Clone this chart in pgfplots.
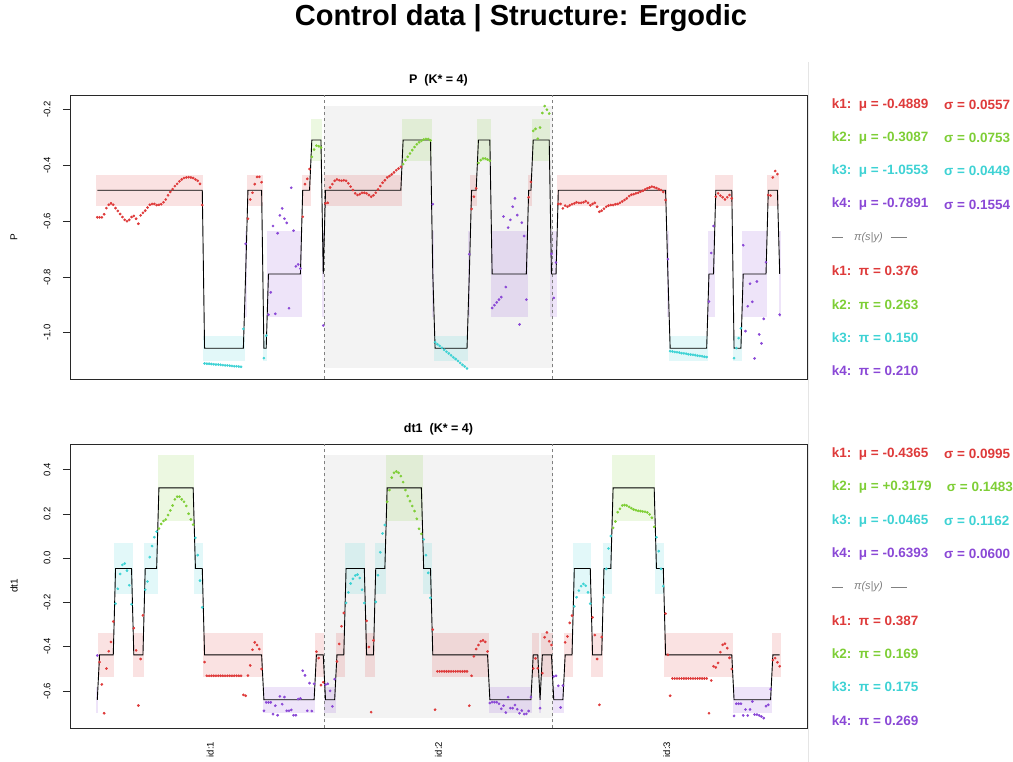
\documentclass[border=0pt]{standalone}
\usepackage{pgfplots}
\pgfplotsset{compat=1.18}
\usepackage{pgfplotstable}
\usepackage{fontspec}
\setmainfont{Liberation Sans}

\definecolor{kA}{RGB}{222,58,58}
\definecolor{kB}{RGB}{126,206,54}
\definecolor{kC}{RGB}{62,210,212}
\definecolor{kD}{RGB}{138,72,214}
\definecolor{regiongray}{RGB}{243,243,243}
\definecolor{axisgray}{RGB}{40,40,40}

% P panel: t value state
\pgfplotstableread[row sep=\\]{
t v s\\
1 -0.586 1\\ 2 -0.586 1\\ 3 -0.586 1\\ 4 -0.575 1\\ 5 -0.553 1\\ 6 -0.541 1\\ 7 -0.536 1\\ 8 -0.541 1\\ 9 -0.553 1\\ 10 -0.563 1\\
11 -0.574 1\\ 12 -0.585 1\\ 13 -0.595 1\\ 14 -0.600 1\\ 15 -0.595 1\\ 16 -0.585 1\\ 17 -0.581 1\\ 18 -0.591 1\\ 19 -0.609 1\\ 20 -0.579 1\\
21 -0.570 1\\ 22 -0.562 1\\ 23 -0.551 1\\ 24 -0.541 1\\ 25 -0.538 1\\ 26 -0.538 1\\ 27 -0.542 1\\ 28 -0.541 1\\ 29 -0.539 1\\ 30 -0.532 1\\
31 -0.522 1\\ 32 -0.507 1\\ 33 -0.495 1\\ 34 -0.485 1\\ 35 -0.474 1\\ 36 -0.466 1\\ 37 -0.457 1\\ 38 -0.450 1\\ 39 -0.445 1\\ 40 -0.443 1\\
41 -0.442 1\\ 42 -0.443 1\\ 43 -0.445 1\\ 44 -0.450 1\\ 45 -0.455 1\\ 46 -0.466 1\\ 47 -0.542 1\\
48 -1.110 3\\ 49 -1.111 3\\ 50 -1.111 3\\ 51 -1.112 3\\ 52 -1.113 3\\ 53 -1.114 3\\ 54 -1.114 3\\ 55 -1.115 3\\ 56 -1.116 3\\ 57 -1.117 3\\
58 -1.117 3\\ 59 -1.118 3\\ 60 -1.119 3\\ 61 -1.120 3\\ 62 -1.120 3\\ 63 -1.121 3\\ 64 -1.122 3\\ 65 -0.986 3\\
66 -0.681 4\\
67 -0.591 1\\ 68 -0.522 1\\ 69 -0.498 1\\ 70 -0.467 1\\ 71 -0.441 1\\ 72 -0.441 1\\ 73 -0.460 1\\
74 -1.091 3\\ 75 -1.010 3\\
76 -0.935 4\\ 77 -0.855 4\\ 78 -0.617 4\\ 79 -0.932 4\\ 80 -0.643 4\\ 81 -0.579 4\\ 82 -0.554 4\\ 83 -0.591 4\\ 84 -0.606 4\\ 85 -0.912 4\\
86 -0.480 4\\ 87 -0.634 4\\ 88 -0.762 4\\ 89 -0.755 4\\ 90 -0.770 4\\
91 -0.584 1\\ 92 -0.467 1\\ 93 -0.448 1\\ 94 -0.413 1\\
95 -0.369 2\\ 96 -0.343 2\\ 97 -0.329 2\\ 98 -0.331 2\\ 99 -0.336 2\\
100 -0.974 4\\
101 -0.536 1\\ 102 -0.534 1\\ 103 -0.479 1\\ 104 -0.467 1\\ 105 -0.455 1\\ 106 -0.450 1\\ 107 -0.453 1\\ 108 -0.455 1\\ 109 -0.453 1\\ 110 -0.455 1\\
111 -0.464 1\\ 112 -0.476 1\\ 113 -0.488 1\\ 114 -0.500 1\\ 115 -0.506 1\\ 116 -0.503 1\\ 117 -0.498 1\\ 118 -0.498 1\\ 119 -0.500 1\\ 120 -0.506 1\\
121 -0.512 1\\ 122 -0.507 1\\ 123 -0.498 1\\ 124 -0.486 1\\ 125 -0.474 1\\ 126 -0.462 1\\ 127 -0.453 1\\ 128 -0.443 1\\ 129 -0.438 1\\ 130 -0.432 1\\
131 -0.425 1\\ 132 -0.417 1\\ 133 -0.411 1\\ 134 -0.405 1\\
135 -0.395 2\\ 136 -0.381 2\\ 137 -0.369 2\\ 138 -0.357 2\\ 139 -0.345 2\\ 140 -0.334 2\\ 141 -0.324 2\\ 142 -0.317 2\\ 143 -0.312 2\\ 144 -0.307 2\\
145 -0.305 2\\ 146 -0.305 2\\ 147 -0.310 2\\
148 -0.539 4\\
149 -1.034 3\\ 150 -1.041 3\\ 151 -1.047 3\\ 152 -1.054 3\\ 153 -1.061 3\\ 154 -1.068 3\\ 155 -1.074 3\\ 156 -1.081 3\\ 157 -1.088 3\\ 158 -1.094 3\\
159 -1.101 3\\ 160 -1.108 3\\ 161 -1.115 3\\ 162 -1.121 3\\ 163 -1.128 3\\
164 -0.718 4\\
165 -0.556 1\\ 166 -0.512 1\\ 167 -0.482 1\\
168 -0.391 2\\ 169 -0.381 2\\ 170 -0.375 2\\ 171 -0.375 2\\ 172 -0.379 2\\ 173 -0.383 2\\
174 -0.911 4\\ 175 -0.901 4\\ 176 -0.891 4\\ 177 -0.881 4\\ 178 -0.872 4\\ 179 -0.583 4\\ 180 -0.836 4\\ 181 -0.623 4\\ 182 -0.595 4\\ 183 -0.548 4\\
184 -0.518 4\\ 185 -0.578 4\\ 186 -0.970 4\\ 187 -0.605 4\\ 188 -0.653 4\\ 189 -0.881 4\\
190 -0.514 1\\ 191 -0.459 1\\
192 -0.276 2\\ 193 -0.269 2\\ 194 -0.304 2\\ 195 -0.264 2\\ 196 -0.212 2\\ 197 -0.187 2\\ 198 -0.200 2\\ 199 -0.214 2\\
200 -0.717 4\\ 201 -0.875 4\\ 202 -0.748 4\\
203 -0.538 1\\ 204 -0.538 1\\ 205 -0.554 1\\ 206 -0.544 1\\ 207 -0.548 1\\ 208 -0.543 1\\ 209 -0.539 1\\ 210 -0.536 1\\
211 -0.532 1\\ 212 -0.534 1\\ 213 -0.534 1\\ 214 -0.532 1\\ 215 -0.528 1\\ 216 -0.534 1\\ 217 -0.543 1\\ 218 -0.538 1\\ 219 -0.534 1\\ 220 -0.548 1\\
221 -0.566 1\\ 222 -0.562 1\\ 223 -0.555 1\\ 224 -0.548 1\\ 225 -0.544 1\\ 226 -0.542 1\\ 227 -0.542 1\\ 228 -0.539 1\\ 229 -0.538 1\\ 230 -0.534 1\\
231 -0.529 1\\ 232 -0.524 1\\ 233 -0.518 1\\ 234 -0.510 1\\ 235 -0.505 1\\ 236 -0.503 1\\ 237 -0.500 1\\ 238 -0.498 1\\ 239 -0.494 1\\ 240 -0.491 1\\
241 -0.486 1\\ 242 -0.482 1\\ 243 -0.479 1\\ 244 -0.476 1\\ 245 -0.478 1\\ 246 -0.481 1\\ 247 -0.485 1\\ 248 -0.488 1\\ 249 -0.495 1\\ 250 -0.524 1\\
251 -0.736 4\\
252 -1.066 3\\ 253 -1.067 3\\ 254 -1.069 3\\ 255 -1.070 3\\ 256 -1.071 3\\ 257 -1.073 3\\ 258 -1.074 3\\ 259 -1.075 3\\ 260 -1.077 3\\
261 -1.078 3\\ 262 -1.079 3\\ 263 -1.080 3\\ 264 -1.082 3\\ 265 -1.083 3\\ 266 -1.084 3\\ 267 -1.086 3\\ 268 -1.087 3\\
269 -0.888 4\\ 270 -0.714 4\\ 271 -0.617 4\\
272 -0.512 1\\ 273 -0.500 1\\ 274 -0.508 1\\ 275 -0.514 1\\ 276 -0.522 1\\ 277 -0.514 1\\ 278 -0.506 1\\ 279 -0.518 1\\
280 -1.091 3\\ 281 -1.055 3\\ 282 -1.019 3\\ 283 -0.984 3\\
284 -0.686 4\\ 285 -0.994 4\\ 286 -0.905 4\\ 287 -0.824 4\\ 288 -0.889 4\\ 289 -1.092 4\\ 290 -0.816 4\\ 291 -1.006 4\\ 292 -1.038 4\\ 293 -0.950 4\\ 294 -0.747 4\\
295 -0.506 1\\ 296 -0.508 1\\ 297 -0.443 1\\ 298 -0.420 1\\ 299 -0.431 1\\
300 -0.935 4\\
}\pdata

% dt1 panel
\pgfplotstableread[row sep=\\]{
t v s\\
1 -0.439 4\\
2 -0.469 1\\ 3 -0.570 1\\ 4 -0.700 1\\ 5 -0.498 1\\ 6 -0.420 1\\ 7 -0.378 1\\ 8 -0.286 1\\
9 -0.205 3\\ 10 -0.138 3\\ 11 -0.071 3\\ 12 -0.030 3\\ 13 -0.024 3\\ 14 -0.056 3\\ 15 -0.122 3\\ 16 -0.208 3\\
17 -0.316 1\\ 18 -0.416 1\\ 19 -0.665 1\\ 20 -0.455 1\\ 21 -0.258 1\\
22 -0.142 3\\ 23 -0.105 3\\ 24 0.005 3\\ 25 0.055 3\\ 26 0.095 3\\ 27 0.120 3\\
28 0.134 2\\ 29 0.155 2\\ 30 0.168 2\\ 31 0.175 2\\ 32 0.195 2\\ 33 0.216 2\\ 34 0.238 2\\ 35 0.266 2\\ 36 0.278 2\\ 37 0.278 2\\
38 0.266 2\\ 39 0.255 2\\ 40 0.236 2\\ 41 0.201 2\\ 42 0.175 2\\ 43 0.152 2\\
44 0.092 3\\ 45 0.014 3\\ 46 -0.101 3\\ 47 -0.222 3\\
48 -0.469 1\\ 49 -0.531 1\\ 50 -0.531 1\\ 51 -0.531 1\\ 52 -0.531 1\\ 53 -0.531 1\\ 54 -0.531 1\\ 55 -0.531 1\\ 56 -0.531 1\\ 57 -0.531 1\\
58 -0.531 1\\ 59 -0.531 1\\ 60 -0.531 1\\ 61 -0.531 1\\ 62 -0.531 1\\ 63 -0.531 1\\ 64 -0.531 1\\ 65 -0.617 1\\ 66 -0.621 1\\ 67 -0.530 1\\
68 -0.484 1\\ 69 -0.413 1\\ 70 -0.380 1\\ 71 -0.392 1\\ 72 -0.410 1\\ 73 -0.500 1\\
74 -0.689 4\\ 75 -0.651 4\\ 76 -0.651 4\\ 77 -0.651 4\\ 78 -0.704 4\\ 79 -0.666 4\\ 80 -0.709 4\\ 81 -0.624 4\\ 82 -0.659 4\\ 83 -0.627 4\\
84 -0.689 4\\ 85 -0.689 4\\ 86 -0.685 4\\ 87 -0.709 4\\ 88 -0.709 4\\ 89 -0.636 4\\ 90 -0.633 4\\ 91 -0.508 4\\ 92 -0.529 4\\ 93 -0.689 4\\
94 -0.564 4\\ 95 -0.690 4\\ 96 -0.567 4\\
97 -0.422 1\\ 98 -0.451 1\\ 99 -0.573 1\\ 100 -0.560 1\\
101 -0.571 4\\ 102 -0.567 4\\ 103 -0.599 4\\ 104 -0.669 4\\ 105 -0.546 4\\
106 -0.466 1\\ 107 -0.387 1\\ 108 -0.307 1\\ 109 -0.247 1\\
110 -0.202 3\\ 111 -0.154 3\\ 112 -0.114 3\\ 113 -0.093 3\\ 114 -0.078 3\\ 115 -0.074 3\\ 116 -0.089 3\\ 117 -0.142 3\\ 118 -0.202 3\\
119 -0.283 1\\ 120 -0.401 1\\ 121 -0.695 1\\ 122 -0.371 1\\
123 -0.197 3\\ 124 -0.077 3\\ 125 0.027 3\\ 126 0.112 3\\ 127 0.150 3\\
128 0.255 2\\ 129 0.308 2\\ 130 0.364 2\\ 131 0.386 2\\ 132 0.392 2\\ 133 0.386 2\\ 134 0.371 2\\ 135 0.344 2\\ 136 0.308 2\\ 137 0.281 2\\
138 0.258 2\\ 139 0.236 2\\ 140 0.213 2\\ 141 0.178 2\\ 142 0.133 2\\ 143 0.110 2\\
144 0.085 3\\ 145 0.014 3\\ 146 -0.066 3\\ 147 -0.179 3\\
148 -0.322 1\\ 149 -0.684 1\\ 150 -0.511 1\\ 151 -0.511 1\\ 152 -0.511 1\\ 153 -0.511 1\\ 154 -0.511 1\\ 155 -0.511 1\\ 156 -0.511 1\\ 157 -0.511 1\\
158 -0.511 1\\ 159 -0.511 1\\ 160 -0.511 1\\ 161 -0.511 1\\ 162 -0.511 1\\ 163 -0.511 1\\ 164 -0.666 1\\ 165 -0.531 1\\ 166 -0.443 1\\ 167 -0.410 1\\
168 -0.392 1\\ 169 -0.375 1\\ 170 -0.371 1\\ 171 -0.378 1\\ 172 -0.421 1\\
173 -0.654 4\\ 174 -0.650 4\\ 175 -0.650 4\\ 176 -0.650 4\\ 177 -0.657 4\\ 178 -0.680 4\\ 179 -0.666 4\\ 180 -0.697 4\\ 181 -0.627 4\\ 182 -0.677 4\\
183 -0.677 4\\ 184 -0.663 4\\ 185 -0.682 4\\ 186 -0.700 4\\ 187 -0.688 4\\ 188 -0.704 4\\ 189 -0.703 4\\ 190 -0.690 4\\ 191 -0.627 4\\
192 -0.498 1\\ 193 -0.452 1\\ 194 -0.497 1\\
195 -0.677 4\\
196 -0.519 1\\ 197 -0.357 1\\ 198 -0.335 1\\ 199 -0.375 1\\ 200 -0.392 1\\
201 -0.534 4\\ 202 -0.531 4\\ 203 -0.576 4\\ 204 -0.674 4\\ 205 -0.575 4\\
206 -0.380 1\\ 207 -0.353 1\\ 208 -0.292 1\\ 209 -0.259 1\\
210 -0.217 3\\ 211 -0.176 3\\ 212 -0.146 3\\ 213 -0.126 3\\ 214 -0.116 3\\ 215 -0.124 3\\ 216 -0.154 3\\ 217 -0.205 3\\
218 -0.267 1\\ 219 -0.347 1\\ 220 -0.455 1\\ 221 -0.662 1\\ 222 -0.356 1\\
223 -0.176 3\\ 224 -0.048 3\\ 225 0.044 3\\ 226 0.100 3\\
227 0.137 2\\ 228 0.166 2\\ 229 0.208 2\\ 230 0.223 2\\ 231 0.238 2\\ 232 0.240 2\\ 233 0.238 2\\ 234 0.232 2\\ 235 0.226 2\\ 236 0.220 2\\
237 0.217 2\\ 238 0.214 2\\ 239 0.213 2\\ 240 0.211 2\\ 241 0.210 2\\ 242 0.207 2\\ 243 0.198 2\\ 244 0.183 2\\ 245 0.142 2\\
246 0.095 3\\ 247 0.032 3\\ 248 -0.048 3\\ 249 -0.126 3\\
250 -0.250 1\\ 251 -0.436 1\\ 252 -0.621 1\\ 253 -0.543 1\\ 254 -0.543 1\\ 255 -0.543 1\\ 256 -0.543 1\\ 257 -0.543 1\\ 258 -0.543 1\\ 259 -0.543 1\\
260 -0.543 1\\ 261 -0.543 1\\ 262 -0.543 1\\ 263 -0.543 1\\ 264 -0.543 1\\ 265 -0.543 1\\ 266 -0.543 1\\ 267 -0.543 1\\ 268 -0.543 1\\ 269 -0.700 1\\
270 -0.552 1\\ 271 -0.488 1\\ 272 -0.493 1\\ 273 -0.473 1\\ 274 -0.424 1\\ 275 -0.391 1\\ 276 -0.386 1\\ 277 -0.406 1\\ 278 -0.450 1\\ 279 -0.500 1\\
280 -0.712 4\\ 281 -0.657 4\\ 282 -0.657 4\\ 283 -0.657 4\\ 284 -0.710 4\\ 285 -0.683 4\\ 286 -0.710 4\\ 287 -0.683 4\\ 288 -0.647 4\\ 289 -0.706 4\\
290 -0.706 4\\ 291 -0.710 4\\ 292 -0.715 4\\ 293 -0.722 4\\ 294 -0.668 4\\ 295 -0.662 4\\ 296 -0.591 4\\
297 -0.460 1\\ 298 -0.451 1\\ 299 -0.470 1\\ 300 -0.488 1\\
}\ddata

\newcommand{\band}[5]{\addplot[draw=none, fill=#5, fill opacity=0.15, forget plot] coordinates {(#1,#3) (#2,#3) (#2,#4) (#1,#4)};}
\newcommand{\PA}[2]{\band{#1}{#2}{-0.5446}{-0.4332}{kA}}
\newcommand{\PB}[2]{\band{#1}{#2}{-0.3840}{-0.2334}{kB}}
\newcommand{\PC}[2]{\band{#1}{#2}{-1.1002}{-1.0104}{kC}}
\newcommand{\PD}[2]{\band{#1}{#2}{-0.9445}{-0.6337}{kD}}
\newcommand{\DA}[2]{\band{#1}{#2}{-0.5360}{-0.3370}{kA}}
\newcommand{\DB}[2]{\band{#1}{#2}{0.1696}{0.4662}{kB}}
\newcommand{\DC}[2]{\band{#1}{#2}{-0.1627}{0.0697}{kC}}
\newcommand{\DD}[2]{\band{#1}{#2}{-0.6993}{-0.5793}{kD}}

\pgfplotsset{
  panel/.style={
    scale only axis, width=737pt,
    xmin=-10.96, xmax=311.96,
    axis line style={axisgray, line width=0.9pt},
    tick align=outside, ytick pos=left, xtick pos=bottom,
    major tick length=7pt,
    ytick style={axisgray, line width=0.8pt},
    xtick style={draw=none},
    yticklabel style={rotate=90, anchor=south, font=\fontsize{9.5}{10}\selectfont},
    yticklabel shift=9pt,
    /pgf/number format/fixed, /pgf/number format/fixed zerofill,
    /pgf/number format/precision=1, /pgf/number format/assume math mode=true,
    clip=false,
  },
  pts/.style={scatter, only marks, scatter src=explicit symbolic, mark size=1.15pt,
    scatter/classes={1={mark=*,kA}, 2={mark=*,kB}, 3={mark=*,kC}, 4={mark=*,kD}}},
  stepline/.style={black, line width=0.9pt, forget plot},
}

\begin{document}
\begin{tikzpicture}[x=1pt,y=1pt]
\path[use as bounding box] (0,0) rectangle (1013,762);

% ---------- top panel ----------
\begin{axis}[panel, at={(70pt,383pt)}, anchor=south west, height=284pt,
  ymin=-1.1657, ymax=-0.1473, ytick={-1.0,-0.8,-0.6,-0.4,-0.2}, xtick=\empty]
\addplot[draw=none, fill=regiongray, forget plot] coordinates {(100.5,-1.128) (200.5,-1.128) (200.5,-0.185) (100.5,-0.185)};
\PA{0.5}{47.5} \PC{47.5}{65.5} \PD{65.5}{66.5} \PA{66.5}{73.5} \PC{73.5}{75.5} \PD{75.5}{90.5} \PA{90.5}{94.5} \PB{94.5}{99.5} \PD{99.5}{100.5}
\PA{100.5}{134.5} \PB{134.5}{147.5} \PD{147.5}{148.5} \PC{148.5}{163.5} \PD{163.5}{164.5} \PA{164.5}{167.5} \PB{167.5}{173.5} \PD{173.5}{189.5} \PA{189.5}{191.5} \PB{191.5}{199.5} \PD{199.5}{202.5}
\PA{202.5}{250.5} \PD{250.5}{251.5} \PC{251.5}{268.5} \PD{268.5}{271.5} \PA{271.5}{279.5} \PC{279.5}{283.5} \PD{283.5}{294.5} \PA{294.5}{299.5} \PD{299.5}{300.5}
\addplot[gray, dashed, line width=0.6pt, forget plot] coordinates {(100.5,-1.1657) (100.5,-0.1473)};
\addplot[gray, dashed, line width=0.6pt, forget plot] coordinates {(200.5,-1.1657) (200.5,-0.1473)};
\addplot[stepline] coordinates {
(1,-0.4889)(47,-0.4889)(48,-1.0553)(65,-1.0553)(66,-0.7891)(67,-0.4889)(73,-0.4889)(74,-1.0553)(75,-1.0553)
(76,-0.7891)(90,-0.7891)(91,-0.4889)(94,-0.4889)(95,-0.3087)(99,-0.3087)(100,-0.7891)
(101,-0.4889)(134,-0.4889)(135,-0.3087)(147,-0.3087)(148,-0.7891)(149,-1.0553)(163,-1.0553)(164,-0.7891)
(165,-0.4889)(167,-0.4889)(168,-0.3087)(173,-0.3087)(174,-0.7891)(189,-0.7891)(190,-0.4889)(191,-0.4889)
(192,-0.3087)(199,-0.3087)(200,-0.7891)(202,-0.7891)(203,-0.4889)(250,-0.4889)(251,-0.7891)
(252,-1.0553)(268,-1.0553)(269,-0.7891)(271,-0.7891)(272,-0.4889)(279,-0.4889)(280,-1.0553)(283,-1.0553)
(284,-0.7891)(294,-0.7891)(295,-0.4889)(299,-0.4889)(300,-0.7891)};
\addplot[pts] table[x=t, y=v, meta=s] {\pdata};
\end{axis}

% ---------- bottom panel ----------
\begin{axis}[panel, at={(70pt,33.7pt)}, anchor=south west, height=284.3pt,
  ymin=-0.768, ymax=0.516, ytick={-0.6,-0.4,-0.2,0,0.2,0.4},
  xtick={50.5,150.5,250.5}, xticklabels={id:1,id:2,id:3},
  xticklabel shift=3pt,
  xticklabel style={rotate=90, anchor=east, font=\fontsize{9.5}{10}\selectfont}]
\addplot[draw=none, fill=regiongray, forget plot] coordinates {(100.5,-0.722) (200.5,-0.722) (200.5,0.466) (100.5,0.466)};
\DD{0.5}{1.5} \DA{1.5}{8.5} \DC{8.5}{16.5} \DA{16.5}{21.5} \DC{21.5}{27.5} \DB{27.5}{43.5} \DC{43.5}{47.5} \DA{47.5}{73.5} \DD{73.5}{96.5} \DA{96.5}{100.5}
\DD{100.5}{105.5} \DA{105.5}{109.5} \DC{109.5}{118.5} \DA{118.5}{122.5} \DC{122.5}{127.5} \DB{127.5}{143.5} \DC{143.5}{147.5} \DA{147.5}{172.5} \DD{172.5}{191.5} \DA{191.5}{194.5} \DD{194.5}{195.5} \DA{195.5}{200.5}
\DD{200.5}{205.5} \DA{205.5}{209.5} \DC{209.5}{217.5} \DA{217.5}{222.5} \DC{222.5}{226.5} \DB{226.5}{245.5} \DC{245.5}{249.5} \DA{249.5}{279.5} \DD{279.5}{296.5} \DA{296.5}{300.5}
\addplot[gray, dashed, line width=0.6pt, forget plot] coordinates {(100.5,-0.768) (100.5,0.516)};
\addplot[gray, dashed, line width=0.6pt, forget plot] coordinates {(200.5,-0.768) (200.5,0.516)};
\addplot[stepline] coordinates {
(1,-0.6393)(2,-0.4365)(8,-0.4365)(9,-0.0465)(16,-0.0465)(17,-0.4365)(21,-0.4365)(22,-0.0465)(27,-0.0465)
(28,0.3179)(43,0.3179)(44,-0.0465)(47,-0.0465)(48,-0.4365)(73,-0.4365)(74,-0.6393)(96,-0.6393)(97,-0.4365)(100,-0.4365)
(101,-0.6393)(105,-0.6393)(106,-0.4365)(109,-0.4365)(110,-0.0465)(118,-0.0465)(119,-0.4365)(122,-0.4365)
(123,-0.0465)(127,-0.0465)(128,0.3179)(143,0.3179)(144,-0.0465)(147,-0.0465)(148,-0.4365)(172,-0.4365)
(173,-0.6393)(191,-0.6393)(192,-0.4365)(194,-0.4365)(195,-0.6393)(196,-0.4365)(200,-0.4365)
(201,-0.6393)(205,-0.6393)(206,-0.4365)(209,-0.4365)(210,-0.0465)(217,-0.0465)(218,-0.4365)(222,-0.4365)
(223,-0.0465)(226,-0.0465)(227,0.3179)(245,0.3179)(246,-0.0465)(249,-0.0465)(250,-0.4365)(279,-0.4365)
(280,-0.6393)(296,-0.6393)(297,-0.4365)(300,-0.4365)};
\addplot[pts] table[x=t, y=v, meta=s] {\ddata};
\end{axis}

% ---------- titles and labels ----------
\node[font=\bfseries\fontsize{29}{31}\selectfont] at (521,744) {Control data | Structure: Ergodic};
\node[font=\bfseries\fontsize{12.5}{14}\selectfont] at (438.5,682) {P\ \ (K* = 4)};
\node[font=\bfseries\fontsize{12.5}{14}\selectfont] at (438.5,333) {dt1\ \ (K* = 4)};
\node[rotate=90, font=\fontsize{10}{12}\selectfont] at (14,525) {P};
\node[rotate=90, font=\fontsize{10}{12}\selectfont] at (14,176) {dt1};

\draw[black!10, line width=1.6pt] (808.5,0) -- (808.5,700);

% ---------- right-hand text ----------
\begin{scope}[every node/.style={anchor=west, inner sep=0pt, font=\bfseries\fontsize{13.5}{15}\selectfont}]
\node[text=kA] at (831.7,657.5) {k1:\ \ μ = -0.4889}; \node[text=kA] at (944,657.5) {σ = 0.0557};
\node[text=kB] at (831.7,624.2) {k2:\ \ μ = -0.3087}; \node[text=kB] at (944,624.2) {σ = 0.0753};
\node[text=kC] at (831.7,590.9) {k3:\ \ μ = -1.0553}; \node[text=kC] at (944,590.9) {σ = 0.0449};
\node[text=kD] at (831.7,557.6) {k4:\ \ μ = -0.7891}; \node[text=kD] at (944,557.6) {σ = 0.1554};
\node[text=kA] at (831.7,491.0) {k1:\ \ π = 0.376};
\node[text=kB] at (831.7,457.7) {k2:\ \ π = 0.263};
\node[text=kC] at (831.7,424.4) {k3:\ \ π = 0.150};
\node[text=kD] at (831.7,391.1) {k4:\ \ π = 0.210};
\node[text=kA] at (831.7,308.0) {k1:\ \ μ = -0.4365}; \node[text=kA] at (944,308.0) {σ = 0.0995};
\node[text=kB] at (831.7,274.7) {k2:\ \ μ = +0.3179}; \node[text=kB] at (946.7,274.7) {σ = 0.1483};
\node[text=kC] at (831.7,241.4) {k3:\ \ μ = -0.0465}; \node[text=kC] at (944,241.4) {σ = 0.1162};
\node[text=kD] at (831.7,208.1) {k4:\ \ μ = -0.6393}; \node[text=kD] at (944,208.1) {σ = 0.0600};
\node[text=kA] at (831.7,141.5) {k1:\ \ π = 0.387};
\node[text=kB] at (831.7,108.2) {k2:\ \ π = 0.169};
\node[text=kC] at (831.7,74.9) {k3:\ \ π = 0.175};
\node[text=kD] at (831.7,41.6) {k4:\ \ π = 0.269};
\end{scope}
\foreach \yy in {524.3,174.8} {
  \draw[gray, line width=0.6pt] (831.7,\yy) -- (843.3,\yy);
  \node[anchor=west, inner sep=0pt, text=gray, font=\itshape\fontsize{11}{13}\selectfont] at (854,\yy) {π(s|y)};
  \draw[gray, line width=0.6pt] (890.7,\yy) -- (906.7,\yy);
}
\end{tikzpicture}
\end{document}
